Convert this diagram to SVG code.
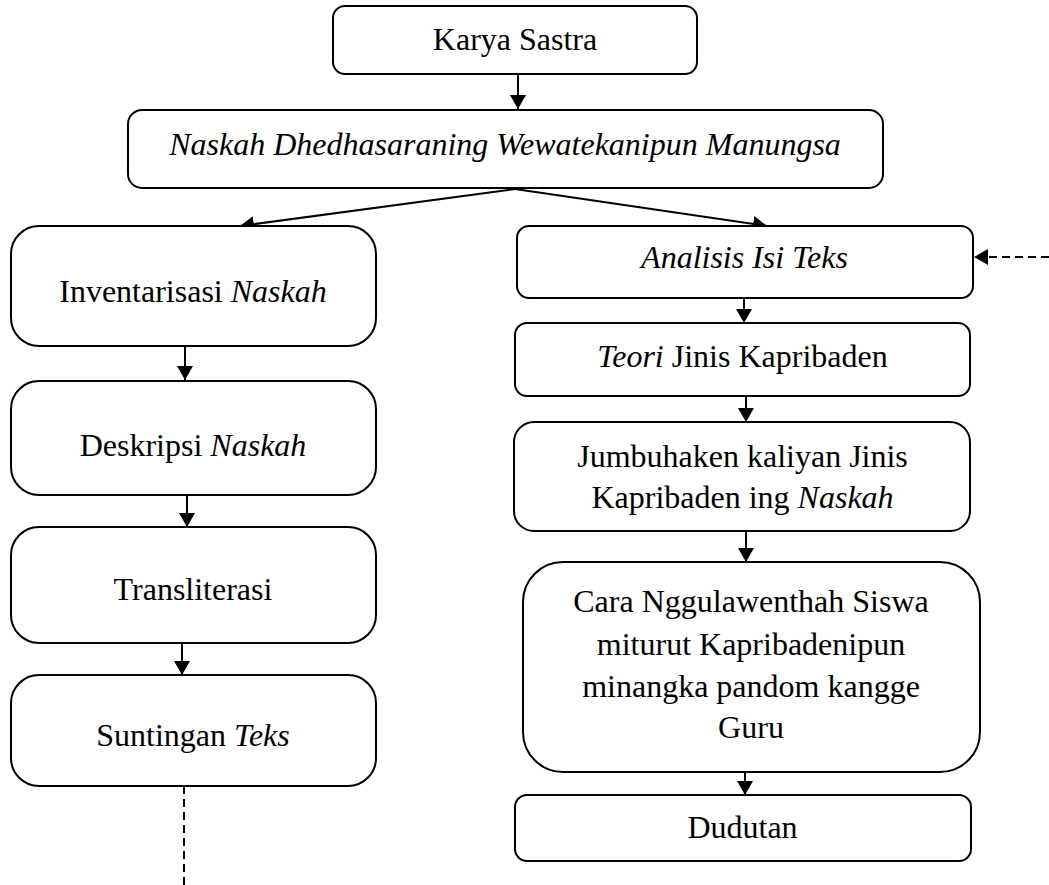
<svg xmlns="http://www.w3.org/2000/svg" width="1049" height="885" viewBox="0 0 1049 885">
<style>
.box{fill:#fff;stroke:#000;stroke-width:2}
.t{font-family:"Liberation Serif","Times New Roman",serif;font-size:32px;fill:#000;text-anchor:middle}
.i{font-style:italic}
.ln{stroke:#000;stroke-width:2;fill:none}
.dash{stroke-dasharray:8 5}
</style>
<defs>
<marker id="ah" markerUnits="userSpaceOnUse" markerWidth="14" markerHeight="16" refX="14" refY="8" orient="auto">
<path d="M0,0 L14,8 L0,16 z" fill="#000"/>
</marker>
</defs>
<rect width="1049" height="885" fill="#fff"/>
<g id="connectors">
<line class="ln" x1="518" y1="74" x2="518" y2="109" marker-end="url(#ah)"/>
<line class="ln" x1="515" y1="189" x2="240" y2="226" marker-end="url(#ah)"/>
<line class="ln" x1="515" y1="189" x2="767" y2="226" marker-end="url(#ah)"/>
<line class="ln" x1="185" y1="346" x2="185" y2="380" marker-end="url(#ah)"/>
<line class="ln" x1="187" y1="495" x2="187" y2="527" marker-end="url(#ah)"/>
<line class="ln" x1="182" y1="643" x2="182" y2="675" marker-end="url(#ah)"/>
<line class="ln dash" x1="184" y1="786" x2="184" y2="885"/>
<line class="ln dash" x1="1049" y1="257" x2="974" y2="257" marker-end="url(#ah)"/>
<line class="ln" x1="744" y1="298" x2="744" y2="323" marker-end="url(#ah)"/>
<line class="ln" x1="746" y1="396" x2="746" y2="422" marker-end="url(#ah)"/>
<line class="ln" x1="746" y1="531" x2="746" y2="562" marker-end="url(#ah)"/>
<line class="ln" x1="745" y1="772" x2="745" y2="795" marker-end="url(#ah)"/>
</g>
<g id="karya">
<rect class="box" x="333" y="6" width="364" height="68" rx="12"/>
<text class="t" x="515" y="50">Karya Sastra</text>
</g>
<g id="naskah">
<rect class="box" x="128" y="110" width="755" height="78" rx="14"/>
<text class="t i" x="505" y="155">Naskah Dhedhasaraning Wewatekanipun Manungsa</text>
</g>
<g id="inventarisasi">
<rect class="box" x="11" y="226" width="365" height="120" rx="28"/>
<text class="t" x="193" y="302">Inventarisasi <tspan class="i">Naskah</tspan></text>
</g>
<g id="deskripsi">
<rect class="box" x="11" y="381" width="365" height="114" rx="28"/>
<text class="t" x="193" y="456">Deskripsi <tspan class="i">Naskah</tspan></text>
</g>
<g id="transliterasi">
<rect class="box" x="11" y="527" width="365" height="116" rx="28"/>
<text class="t" x="193" y="600">Transliterasi</text>
</g>
<g id="suntingan">
<rect class="box" x="11" y="675" width="365" height="111" rx="28"/>
<text class="t" x="193" y="746">Suntingan <tspan class="i">Teks</tspan></text>
</g>
<g id="analisis">
<rect class="box" x="517" y="226" width="456" height="72" rx="12"/>
<text class="t i" x="744.5" y="268">Analisis Isi Teks</text>
</g>
<g id="teori">
<rect class="box" x="515" y="323" width="455" height="73" rx="12"/>
<text class="t" x="742.5" y="367"><tspan class="i">Teori</tspan> Jinis Kapribaden</text>
</g>
<g id="jumbuhaken">
<rect class="box" x="514" y="422" width="456" height="109" rx="20"/>
<text class="t" x="742.5" y="467">Jumbuhaken kaliyan Jinis</text>
<text class="t" x="742.5" y="508">Kapribaden ing <tspan class="i">Naskah</tspan></text>
</g>
<g id="cara">
<rect class="box" x="523" y="562" width="457" height="210" rx="40"/>
<text class="t" x="751" y="612">Cara Nggulawenthah Siswa</text>
<text class="t" x="751" y="655">miturut Kapribadenipun</text>
<text class="t" x="751" y="697">minangka pandom kangge</text>
<text class="t" x="751" y="738">Guru</text>
</g>
<g id="dudutan">
<rect class="box" x="515" y="795" width="456" height="66" rx="12"/>
<text class="t" x="742.5" y="838">Dudutan</text>
</g>
</svg>
